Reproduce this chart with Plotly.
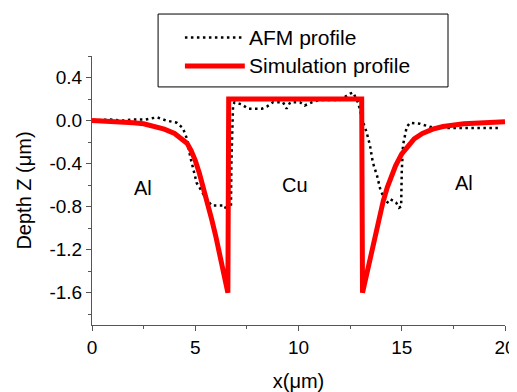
import plotly.graph_objects as go

# Simulation profile (red)
sim_x = [0, 1.0, 2.0, 2.5, 3.0, 3.5, 4.0, 4.3, 4.6, 4.8, 5.0, 5.2, 5.4, 5.6, 5.8, 6.0, 6.2, 6.4, 6.58, 6.62,
         13.06, 13.1, 13.3, 13.5, 13.7, 13.9, 14.1, 14.3, 14.5, 14.7, 15.0, 15.3, 15.6, 16.0, 16.5,
         17.0, 18.0, 19.0, 20.0]
sim_y = [0.0, -0.005, -0.02, -0.03, -0.05, -0.08, -0.12, -0.16, -0.21, -0.28, -0.37, -0.49, -0.62, -0.77,
         -0.92, -1.08, -1.25, -1.42, -1.6, 0.2,
         0.2, -1.6, -1.42, -1.24, -1.07, -0.9, -0.75, -0.62, -0.51, -0.42, -0.31, -0.23, -0.17, -0.12, -0.08,
         -0.055, -0.03, -0.02, -0.01]

# AFM profile (black dotted)
afm_x = [0, 0.9, 1.5, 2.0, 2.6, 3.15, 3.6, 4.1, 4.4, 4.6, 4.75, 4.9, 5.07, 5.2, 5.5,
         5.8, 6.1, 6.44, 6.5, 6.73, 6.75, 6.83, 6.9, 7.26, 7.55, 7.9, 8.23, 8.47, 8.77,
         9.25, 9.42, 9.6, 10.07, 10.3, 10.65, 11.0, 11.5, 12.0, 12.5, 12.65, 12.9, 13.1,
         13.3, 13.46, 13.6, 13.8, 13.95, 14.05, 14.27, 14.43, 14.72, 14.87, 14.97, 15.0,
         15.06, 15.24, 15.4, 15.88, 16.4, 17.3, 18.5, 19.66]
afm_y = [0.0, 0.01, 0.0, 0.01, 0.01, 0.03, 0.0, -0.02, -0.07, -0.17, -0.33, -0.45, -0.58, -0.62, -0.72,
         -0.79, -0.79, -0.79, -0.84, -0.8, -0.4, 0.14, 0.17, 0.15, 0.11, 0.11, 0.11, 0.13, 0.17,
         0.17, 0.11, 0.17, 0.17, 0.14, 0.17, 0.19, 0.19, 0.19, 0.25, 0.26, 0.16, 0.0,
         -0.11, -0.23, -0.39, -0.51, -0.63, -0.68, -0.77, -0.73, -0.76, -0.81, -0.8, -0.48,
         -0.23, -0.06, -0.02, -0.03, -0.06, -0.07, -0.07, -0.07]

series_names = ["AFM profile", "Simulation profile"]

region_labels = ["Al", "Cu", "Al"]
region_x = [2.45, 9.83, 18.0]
region_y = [-0.63, -0.60, -0.58]

x_ticks = [0, 5, 10, 15, 20]
y_ticks = [0.4, 0.0, -0.4, -0.8, -1.2, -1.6]

FONT = "Arial, Liberation Sans, sans-serif"
AFM_LINE = dict(color="black", width=2.5, dash="2.5px,3.5px")
SIM_LINE = dict(color="#ff0000", width=5)

fig = go.Figure()
fig.add_trace(go.Scatter(x=afm_x, y=afm_y, mode="lines", name=series_names[0],
                         line=AFM_LINE, showlegend=False))
fig.add_trace(go.Scatter(x=sim_x, y=sim_y, mode="lines", name=series_names[1],
                         line=SIM_LINE, showlegend=False))

for t, xx, yy in zip(region_labels, region_x, region_y):
    fig.add_annotation(x=xx, y=yy, text=t, showarrow=False,
                       font=dict(family=FONT, size=20, color="black"))

# Legend box drawn in paper coordinates
fig.add_shape(type="rect", xref="paper", yref="paper", x0=0.160, x1=0.862, y0=0.885, y1=1.156,
              line=dict(color="black", width=1), fillcolor="white", layer="above")
legend_rows = [1.069, 0.963]
for name, ln, yy in zip(series_names, [AFM_LINE, SIM_LINE], legend_rows):
    fig.add_shape(type="line", xref="paper", yref="paper", x0=0.225, x1=0.370, y0=yy, y1=yy,
                  line=ln, layer="above")
    fig.add_annotation(xref="paper", yref="paper", x=0.376, y=yy, text=name, showarrow=False,
                       xanchor="left", yanchor="middle",
                       font=dict(family=FONT, size=21, color="black"))

axis_common = dict(showline=True, linecolor="#555555", linewidth=1, ticks="outside",
                   ticklen=5, tickcolor="#555555", showgrid=False, zeroline=False,
                   automargin=False,
                   tickfont=dict(family=FONT, size=19, color="black"),
                   minor=dict(ticks="outside", ticklen=3, tickcolor="#555555"))

fig.update_xaxes(range=[0, 20], tickvals=x_ticks, ticktext=[str(v) for v in x_ticks],
                 title=dict(text="x(μm)", font=dict(family=FONT, size=20, color="black"), standoff=20),
                 minor_dtick=2.5, **axis_common)
fig.update_yaxes(range=[-1.9, 0.6], tickvals=y_ticks, ticktext=[f"{v:.1f}" for v in y_ticks],
                 title=dict(text="Depth Z (μm)", font=dict(family=FONT, size=20, color="black"), standoff=12),
                 minor_dtick=0.2, **axis_common)

# The page body adds an 8px offset, so the figure is 8px smaller and the top/left margins shifted
fig.update_layout(
    width=509, height=384,
    margin=dict(l=84, r=12, t=48, b=67),
    plot_bgcolor="white", paper_bgcolor="white",
    showlegend=False,
)

fig.write_html("out.html")
